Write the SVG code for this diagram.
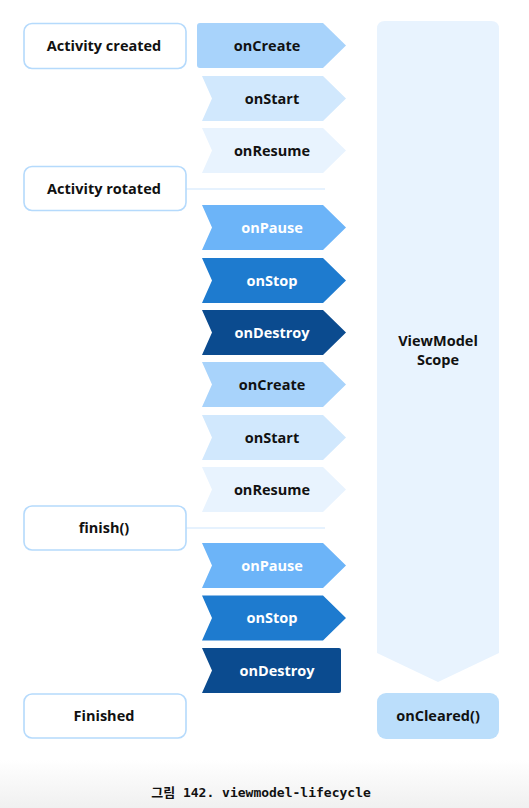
<svg xmlns="http://www.w3.org/2000/svg" width="529" height="808" viewBox="0 0 529 808">
<defs>
<style>
.box{fill:#fff;stroke:#b5dafc;stroke-width:1.6}
.t{font-family:"Open Sans","Noto Sans",sans-serif;font-weight:700;font-size:14.5px;text-anchor:middle;fill:#111}
.w{fill:#fff}
.sep{stroke:#e6f2fe;stroke-width:2}
.c1{fill:#a8d3fb}.c2{fill:#d1e8fd}.c3{fill:#e8f3fe}.c4{fill:#6cb4f8}.c5{fill:#1e7bcf}.c6{fill:#0b4b8f}
.cap{font-family:"DejaVu Sans Mono","Noto Sans CJK KR",monospace;font-weight:700;font-size:13px;text-anchor:middle;fill:#111}
</style>
<linearGradient id="bg" x1="0" y1="0" x2="0" y2="1"><stop offset="0" stop-color="#fff"/><stop offset="1" stop-color="#f0f0f0"/></linearGradient>
</defs>
<rect x="0" y="760" width="529" height="48" fill="url(#bg)"/>
<g id="connectors">
<line class="sep" x1="186" y1="189" x2="325" y2="189"/>
<line class="sep" x1="186" y1="528" x2="325" y2="528"/>
</g>
<g id="scope">
<path class="c3" d="M385,21 H491 Q499,21 499,29 V653 L438,682 L377,653 V29 Q377,21 385,21 Z"/>
<text class="t" x="438" y="346">ViewModel</text>
<text class="t" x="438" y="365">Scope</text>
</g>
<g id="oncleared">
<rect x="377" y="693" width="122" height="46" rx="9" fill="#bbdefb"/>
<text class="t" x="438" y="721">onCleared()</text>
</g>
<g id="activity-created"><rect class="box" x="24" y="23.5" width="162" height="45" rx="8"/><text class="t" x="104" y="51">Activity created</text></g>
<g id="activity-rotated"><rect class="box" x="24" y="166.5" width="162" height="44" rx="8"/><text class="t" x="104" y="194">Activity rotated</text></g>
<g id="finish"><rect class="box" x="24" y="506" width="162" height="44" rx="8"/><text class="t" x="104" y="533">finish()</text></g>
<g id="finished"><rect class="box" x="24" y="694" width="162" height="44" rx="8"/><text class="t" x="104" y="721">Finished</text></g>
<g id="oncreate1"><path class="c1" d="M200,23 H323 L346,45.5 L323,68 H200 Q197,68 197,65 V26 Q197,23 200,23 Z"/><text class="t" x="267" y="51">onCreate</text></g>
<g id="onstart1"><path class="c2" d="M202,76 H323 L346,98.5 L323,121 H202 L212,98.5 Z"/><text class="t" x="272" y="104">onStart</text></g>
<g id="onresume1"><path class="c3" d="M202,128 H323 L346,150.5 L323,173 H202 L212,150.5 Z"/><text class="t" x="272" y="156">onResume</text></g>
<g id="onpause1"><path class="c4" d="M202,205 H323 L346,227.5 L323,250 H202 L212,227.5 Z"/><text class="t w" x="272" y="233">onPause</text></g>
<g id="onstop1"><path class="c5" d="M202,258 H323 L346,280.5 L323,303 H202 L212,280.5 Z"/><text class="t w" x="272" y="286">onStop</text></g>
<g id="ondestroy1"><path class="c6" d="M202,310 H323 L346,332.5 L323,355 H202 L212,332.5 Z"/><text class="t w" x="272" y="338">onDestroy</text></g>
<g id="oncreate2"><path class="c1" d="M202,362 H323 L346,384.5 L323,407 H202 L212,384.5 Z"/><text class="t" x="272" y="390">onCreate</text></g>
<g id="onstart2"><path class="c2" d="M202,415 H323 L346,437.5 L323,460 H202 L212,437.5 Z"/><text class="t" x="272" y="443">onStart</text></g>
<g id="onresume2"><path class="c3" d="M202,467 H323 L346,489.5 L323,512 H202 L212,489.5 Z"/><text class="t" x="272" y="495">onResume</text></g>
<g id="onpause2"><path class="c4" d="M202,543 H323 L346,565.5 L323,588 H202 L212,565.5 Z"/><text class="t w" x="272" y="571">onPause</text></g>
<g id="onstop2"><path class="c5" d="M202,595.5 H323 L346,618 L323,640.5 H202 L212,618 Z"/><text class="t w" x="272" y="623">onStop</text></g>
<g id="ondestroy2"><path class="c6" d="M202,648 H339 Q341,648 341,650 V691 Q341,693 339,693 H202 L212,670.5 Z"/><text class="t w" x="277" y="676">onDestroy</text></g>
<text class="cap" x="261" y="797">그림 142. viewmodel-lifecycle</text>
</svg>
